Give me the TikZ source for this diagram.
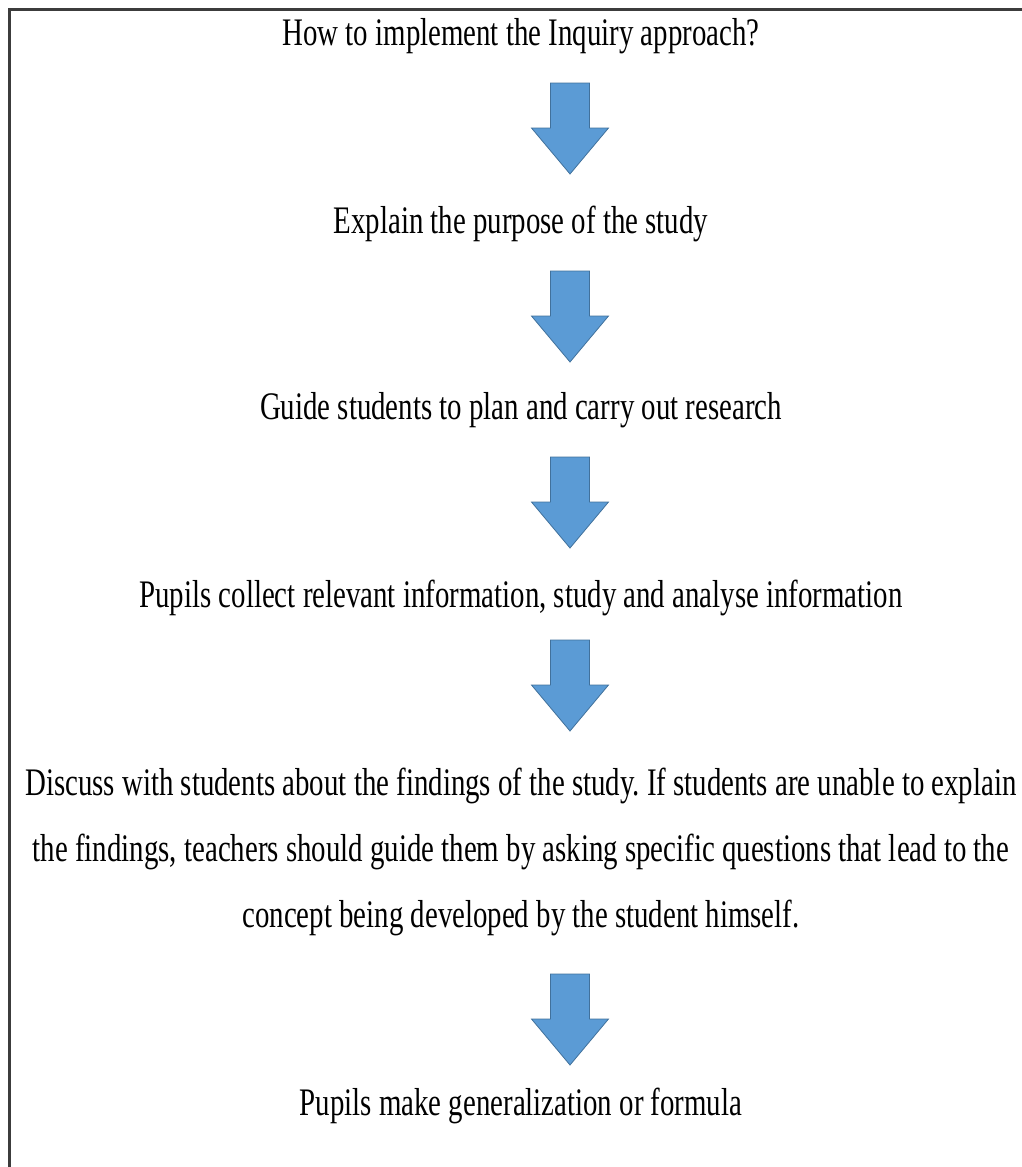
\documentclass[tikz,border=0pt]{standalone}
\usepackage{fontspec}
\setmainfont[FakeStretch=0.74]{Liberation Serif}
\usepackage{xcolor}
\usepackage{tikz}
\frenchspacing

\definecolor{arrowblue}{RGB}{91,155,213}
\definecolor{arrowedge}{RGB}{65,113,156}
\definecolor{framegray}{RGB}{60,60,60}

\tikzset{
  steptext/.style={anchor=base, inner sep=0pt, align=center,
    font=\fontsize{39}{66}\selectfont},
  downarrow/.pic={
    \filldraw[fill=arrowblue, draw=arrowedge, line width=0.8pt]
      (-19.5,0) -- (19.5,0) -- (19.5,45) -- (38.5,45) -- (0,91)
      -- (-38.5,45) -- (-19.5,45) -- cycle;
  }
}

\begin{document}
\begin{tikzpicture}[x=1pt, y=-1pt]
      \useasboundingbox (0,0) rectangle (1022,1167);
      \draw[framegray, line width=3pt] (9,1167) -- (9,9) -- (1022,9);

      \node[steptext] (how) at (521,45) {How to implement the Inquiry approach?};
      \node[steptext] (purpose) at (521,233) {Explain the purpose of the study};
      \node[steptext] (guide) at (521,419) {Guide students to plan and carry out research};
      \node[steptext] (collect) at (521,607) {Pupils collect relevant information, study and analyse information};
      % base of a multi-line node sits on its last line
      \node[steptext] (discuss) at (521,927) {Discuss with students about the findings of the study. If students are unable to explain\\
        the findings, teachers should guide them by asking specific questions that lead to the\\
        concept being developed by the student himself.};
      \node[steptext] (formula) at (521,1115) {Pupils make generalization or formula};

      \pic (a1) at (570,83) {downarrow};
      \pic (a2) at (570,271) {downarrow};
      \pic (a3) at (570,457) {downarrow};
      \pic (a4) at (570,640) {downarrow};
      \pic (a5) at (570,974) {downarrow};
    \end{tikzpicture}
\end{document}
